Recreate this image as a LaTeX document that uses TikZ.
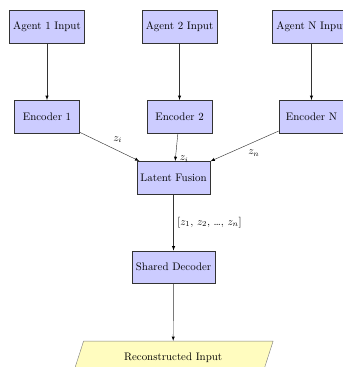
\documentclass[tikz,border=0pt]{standalone}
\usepackage{tikz}
\usetikzlibrary{arrows}
\usetikzlibrary{shapes.geometric}

\begin{document}
\begin{tikzpicture}[auto,
    block/.style={shape=rectangle,draw=black!80,fill=blue!20,minimum height=1.05cm},
    encbox/.style={block,minimum width=2.1cm},
    outbox/.style={trapezium,trapezium left angle=70,trapezium right angle=110,
        trapezium stretches=true,draw=black!50,fill=yellow!25,
        minimum width=6.45cm,minimum height=1.05cm},
    flow/.style={-latex,draw=black!80}]
    \useasboundingbox (0,0) rectangle (11.03,-11.83);

    \node[block] (in1) at (1.515,-0.854) {Agent 1 Input};
    \node[block] (in2) at (5.787,-0.854) {Agent 2 Input};
    \node[block] (inN) at (10.04,-0.854) {Agent N Input};

    \node[encbox] (enc1) at (1.515,-3.756) {Encoder 1};
    \node[encbox] (enc2) at (5.787,-3.756) {Encoder 2};
    \node[encbox] (encN) at (10.04,-3.756) {Encoder N};

    \node[block] (fusion) at (5.594,-5.723) {Latent Fusion};
    \node[block] (dec) at (5.594,-8.608) {Shared Decoder};
    \node[outbox] (recon) at (5.58,-11.52) {Reconstructed Input};

    \path[flow]
    (in1) edge (enc1)
    (in2) edge (enc2)
    (inN) edge (encN)
    (enc1) edge node {$z_i$} (fusion)
    (enc2) edge node [pos=0.68] {$z_i$} (fusion)
    (encN) edge node {$z_n$} (fusion)
    (fusion) edge node {[$z_1$, $z_2$, \ldots, $z_n$]} (dec)
    (dec) edge (recon);
\end{tikzpicture}
\end{document}
